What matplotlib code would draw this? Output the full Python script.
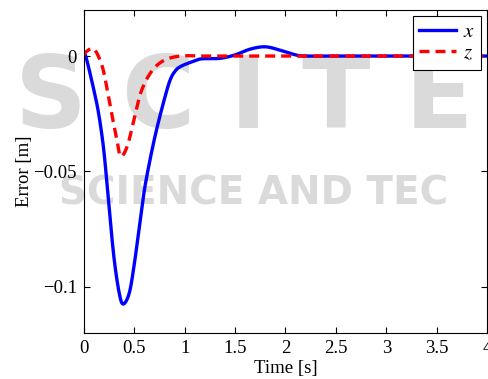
import matplotlib
matplotlib.use("Agg")
import matplotlib.pyplot as plt
import numpy as np

# values (time in s, error in m)
t_x = [0.0, 0.02, 0.10, 0.15, 0.20, 0.25, 0.30, 0.35, 0.39, 0.45, 0.50, 0.55, 0.60,
       0.66, 0.72, 0.79, 0.85, 0.90, 0.96, 1.09, 1.17, 1.35, 1.50, 1.65, 1.80, 1.95, 2.1,
       2.2, 2.5, 3.0, 3.5, 4.0]
err_x = [0.0, -0.0004, -0.015, -0.026, -0.042, -0.066, -0.088, -0.1026, -0.1074,
         -0.1026, -0.090, -0.074, -0.058, -0.044, -0.032, -0.020, -0.011, -0.0068, -0.0045,
         -0.0022, -0.0012, -0.001, 0.0005, 0.003, 0.004, 0.0025, 0.0005, 0.0, 0.0, 0.0,
         0.0, 0.0]

t_z = [0.0, 0.017, 0.10, 0.18, 0.23, 0.28, 0.33, 0.365, 0.43, 0.50, 0.565, 0.665, 0.79,
       0.96, 1.2, 1.5, 2.0, 3.0, 4.0]
err_z = [0.0, 0.0017, 0.003, -0.0043, -0.0143, -0.026, -0.037, -0.0435, -0.039, -0.027,
         -0.0157, -0.007, -0.002, 0.0, 0.0, 0.0, 0.0, 0.0, 0.0]

x_ticks = [0, 0.5, 1, 1.5, 2, 2.5, 3, 3.5, 4]
x_tick_labels = ["0", "0.5", "1", "1.5", "2", "2.5", "3", "3.5", "4"]
y_ticks = [-0.1, -0.05, 0]
y_tick_labels = ["\u22120.1", "\u22120.05", "0"]


def smooth(t, v):
    # Catmull-Rom curve through the read points
    t = np.asarray(t); v = np.asarray(v)
    pts_t, pts_v = [], []
    s = np.linspace(0, 1, 20, endpoint=False)
    for i in range(len(t) - 1):
        j0, j3 = max(i - 1, 0), min(i + 2, len(t) - 1)
        for arr, out in ((t, pts_t), (v, pts_v)):
            a, b, c, d = arr[j0], arr[i], arr[i + 1], arr[j3]
            out.extend(0.5 * ((2 * b) + (-a + c) * s + (2 * a - 5 * b + 4 * c - d) * s ** 2
                              + (-a + 3 * b - 3 * c + d) * s ** 3))
    pts_t.append(t[-1]); pts_v.append(v[-1])
    return np.array(pts_t), np.array(pts_v)


plt.rcParams["font.family"] = ["Liberation Serif", "DejaVu Serif"]
plt.rcParams["mathtext.fontset"] = "stix"

fig = plt.figure(figsize=(4.88, 3.79), dpi=100)

# faint publisher watermark behind the plot
wm = dict(color="#dadada", fontweight="bold", family="DejaVu Sans", zorder=0)
fig.text(0.5, 0.735, "S C I T E", fontsize=72, ha="center", va="center", **wm)
fig.text(0.52, 0.49, "SCIENCE AND TEC", fontsize=28, ha="center", va="center", **wm)

ax = fig.add_axes([0.172, 0.121, 0.826, 0.853])
ax.set_zorder(2)
ax.patch.set_alpha(0)

tx, vx = smooth(t_x, err_x)
tz, vz = smooth(t_z, err_z)
ax.plot(tx, vx, color="#0000ff", lw=2.4, label="$x$")
ax.plot(tz, vz, color="#ff0000", lw=2.4, ls=(0, (3.0, 1.8)), label="$z$")

ax.set_xlim(0, 4)
ax.set_ylim(-0.12, 0.02)
ax.set_xticks(x_ticks)
ax.set_xticklabels(x_tick_labels)
ax.set_yticks(y_ticks)
ax.set_yticklabels(y_tick_labels)
ax.tick_params(direction="in", labelsize=13.5, top=True, right=True, length=4, pad=5)
ax.set_xlabel("Time [s]", fontsize=13.5, labelpad=2)
ax.set_ylabel("Error [m]", fontsize=13.5, labelpad=0)

leg = ax.legend(loc="upper right", fontsize=15, handlelength=1.8, borderpad=0.3,
                labelspacing=0.1, handletextpad=0.3, fancybox=False, framealpha=1,
                borderaxespad=0.3)
leg.get_frame().set_edgecolor("black")
leg.get_frame().set_linewidth(0.8)

fig.savefig("out.png", dpi=100)
